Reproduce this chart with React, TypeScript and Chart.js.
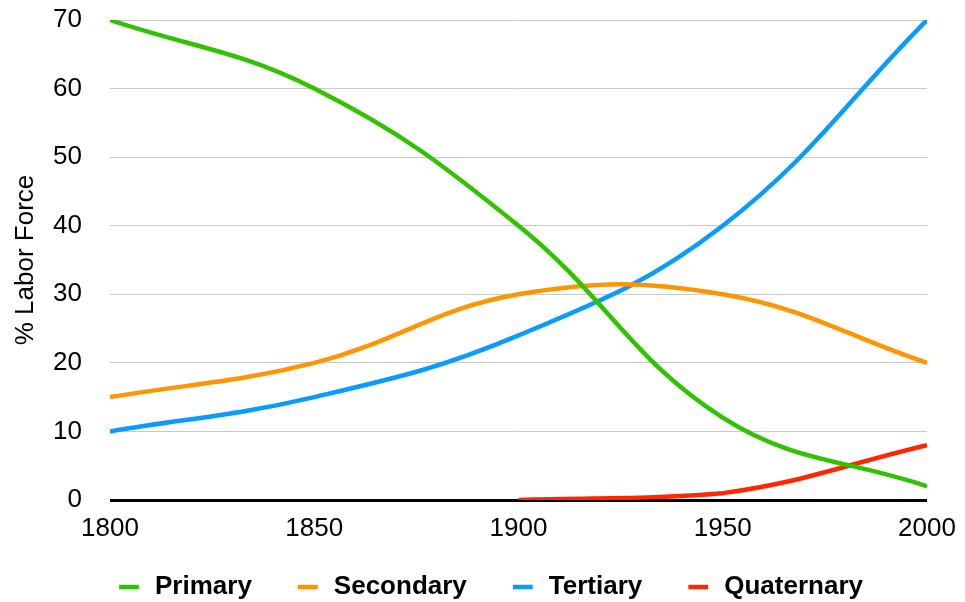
import React, { useEffect, useRef } from "react";
import { Chart, registerables } from "chart.js";

Chart.register(...registerables);

const years = [1800, 1850, 1900, 1950, 2000];
const primary: (number | null)[] = [70, 60, 40, 12, 2];
const secondary: (number | null)[] = [15, 20, 30, 30, 20];
const tertiary: (number | null)[] = [10, 15, 24, 40, 70];
const quaternary: (number | null)[] = [null, null, 0, 1, 8];
const seriesNames = ["Primary", "Secondary", "Tertiary", "Quaternary"];
const seriesValues = [primary, secondary, tertiary, quaternary];
const seriesColors = ["#30c400", "#ff9500", "#0a9bff", "#ff2600"];
const yTitle = "% Labor Force";

const FONT = "'Liberation Sans', Arial, Helvetica, sans-serif";

const legendShift = {
  id: "legendShift",
  afterLayout(chart: any) {
    const lg = chart.legend;
    if (!lg) return;
    const dx = 26 - lg.left;
    lg.left += dx;
    lg.right += dx;
    lg.top = 531;
    lg.bottom = chart.height;
  },
};

export default function App() {
  const ref = useRef<HTMLCanvasElement | null>(null);

  useEffect(() => {
    if (!ref.current) return;
    const datasets = seriesNames.map((name, si) => ({
      label: name,
      data: years
        .map((x, i) => ({ x, y: seriesValues[si][i] }))
        .filter((p) => p.y !== null),
      borderColor: seriesColors[si],
      backgroundColor: seriesColors[si],
      borderWidth: 4.5,
      pointRadius: 0,
      pointHoverRadius: 0,
      tension: 0.4,
      fill: false,
    }));

    const chart = new Chart(ref.current, {
      type: "line",
      data: { datasets: datasets as any },
      plugins: [legendShift],
      options: {
        animation: false,
        responsive: false,
        devicePixelRatio: 1,
        layout: { padding: { top: 20, right: 38, left: 0, bottom: 0 } },
        plugins: {
          tooltip: { enabled: false },
          legend: {
            position: "bottom",
            maxHeight: 54,
            labels: {
              usePointStyle: true,
              pointStyle: "line",
              boxHeight: 14,
              padding: 43,
              color: "#000",
              font: { family: FONT, size: 26, weight: "bold" },
            },
          },
        },
        scales: {
          x: {
            type: "linear",
            min: 1800,
            max: 2000,
            afterFit: (s: any) => {
              s.height = 48;
              s.paddingLeft = 0;
              s.paddingRight = 0;
            },
            grid: { display: false, drawTicks: false },
            border: { display: false },
            ticks: {
              stepSize: 50,
              padding: 13,
              color: "#000",
              font: { family: FONT, size: 26 },
              callback: (v: any) => String(v),
              maxRotation: 0,
            },
          },
          y: {
            min: 0,
            max: 70,
            afterFit: (s: any) => {
              s.width = 110;
              s.paddingTop = 0;
              s.paddingBottom = 0;
            },
            grid: {
              drawTicks: false,
              color: (c: any) => (c.tick && c.tick.value === 0 ? "#000" : "#c8c8c8"),
              lineWidth: (c: any) => (c.tick && c.tick.value === 0 ? 3 : 1),
            },
            border: { display: false },
            ticks: {
              stepSize: 10,
              padding: 28,
              color: "#000",
              font: { family: FONT, size: 26 },
            },
            title: {
              display: true,
              text: yTitle,
              color: "#000",
              font: { family: FONT, size: 26 },
              padding: { top: 10, bottom: 0 },
            },
          },
        },
      },
    });
    return () => chart.destroy();
  }, []);

  return (
    <div style={{ position: "absolute", left: 0, top: 0, width: 965, height: 602, background: "#fff" }}>
      <canvas ref={ref} width={965} height={602} style={{ display: "block" }} />
    </div>
  );
}
